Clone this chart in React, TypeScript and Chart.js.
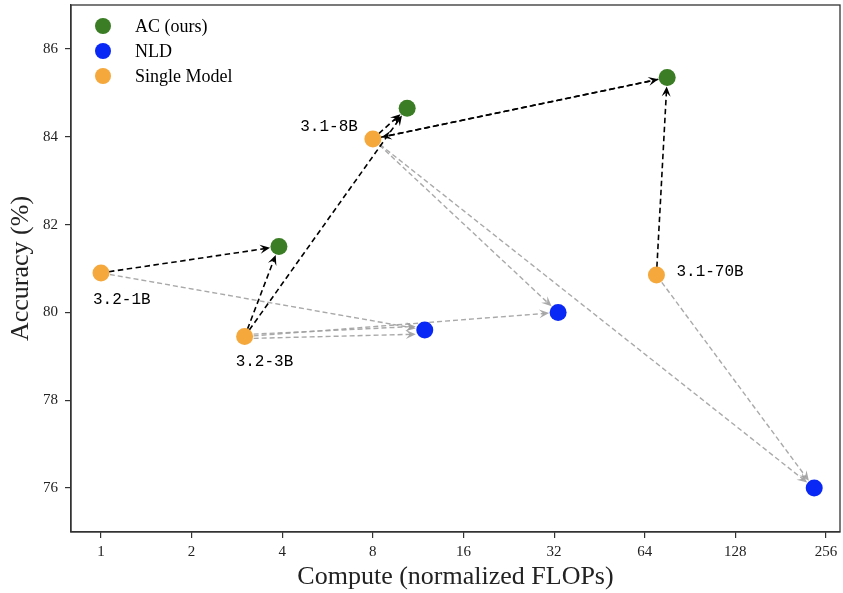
import React, { useEffect, useRef } from "react";
import { Chart, registerables } from "chart.js";

Chart.register(...registerables);

// ---------- data ----------
const modelLabels = ["3.2-1B", "3.2-3B", "3.1-8B", "3.1-70B"];
const singleCompute = [1, 3, 8, 70];
const singleAcc = [80.9, 79.45, 83.95, 80.85];
const acCompute = [3.9, 10.4, 76];
const acAcc = [81.5, 84.65, 85.35];
const nldCompute = [11.9, 33, 234];
const nldAcc = [79.6, 80.0, 76.0];
const xTicks = [1, 2, 4, 8, 16, 32, 64, 128, 256];
const yTicks = [76, 78, 80, 82, 84, 86];
const seriesNames = ["AC (ours)", "NLD", "Single Model"];
// arrows: [single model index, target index]
const acArrows = [[0, 0], [1, 0], [1, 1], [2, 1], [2, 2], [3, 2]];
const acBackArrows = [[2, 2]]; // AC point -> single model (double head)
const nldArrows = [[0, 0], [1, 0], [1, 0], [1, 1], [2, 1], [2, 2], [3, 2]];

// ---------- styles ----------
const COLORS = { ac: "#3a7d24", nld: "#0a28f5", single: "#f5a83c" };
const labelOffsets = [
  { dx: -8, dy: 27, align: "left" },
  { dx: -9, dy: 25, align: "left" },
  { dx: -15, dy: -12, align: "right" },
  { dx: 20, dy: -3, align: "left" },
];
const nldDupOffset = [0, -2, 2, 0, 0, 0, 0];
const SERIF = "'Liberation Serif', 'DejaVu Serif', serif";
const MONO = "'Liberation Mono', 'DejaVu Sans Mono', monospace";

function drawArrow(ctx, x0, y0, x1, y1, color, dash, width, shrinkA, shrinkB) {
  const dx = x1 - x0, dy = y1 - y0;
  const len = Math.hypot(dx, dy);
  const ux = dx / len, uy = dy / len;
  const sx = x0 + ux * shrinkA, sy = y0 + uy * shrinkA;
  const ex = x1 - ux * shrinkB, ey = y1 - uy * shrinkB;
  const L = 10, W = 4.5;
  ctx.save();
  ctx.strokeStyle = color;
  ctx.fillStyle = color;
  ctx.lineWidth = width;
  ctx.setLineDash(dash);
  ctx.beginPath();
  ctx.moveTo(sx, sy);
  ctx.lineTo(ex - ux * L * 0.5, ey - uy * L * 0.5);
  ctx.stroke();
  ctx.setLineDash([]);
  const nx = -uy, ny = ux;
  ctx.beginPath();
  ctx.moveTo(ex, ey);
  ctx.lineTo(ex - ux * L + nx * W, ey - uy * L + ny * W);
  ctx.lineTo(ex - ux * L * 0.6, ey - uy * L * 0.6);
  ctx.lineTo(ex - ux * L - nx * W, ey - uy * L - ny * W);
  ctx.closePath();
  ctx.fill();
  ctx.restore();
}

const arrowsPlugin = {
  id: "arrows",
  beforeDatasetsDraw(chart) {
    const ctx = chart.ctx;
    const xs = chart.scales.x, ys = chart.scales.y;
    const px = (v) => xs.getPixelForValue(v);
    const py = (v) => ys.getPixelForValue(v);
    const gray = "rgba(160,160,160,0.9)";
    nldArrows.forEach(([s, t], i) => {
      const o = nldDupOffset[i];
      drawArrow(ctx, px(singleCompute[s]), py(singleAcc[s]) + o, px(nldCompute[t]), py(nldAcc[t]) + o * 2,
        gray, [5, 3], 1.4, 9, 9);
    });
    acArrows.forEach(([s, t]) => {
      drawArrow(ctx, px(singleCompute[s]), py(singleAcc[s]), px(acCompute[t]), py(acAcc[t]),
        "#000", [5.5, 3.5], 1.6, 8, 9);
    });
    acBackArrows.forEach(([s, t]) => {
      drawArrow(ctx, px(acCompute[t]), py(acAcc[t]), px(singleCompute[s]), py(singleAcc[s]),
        "#000", [5.5, 3.5], 1.6, 9, 9);
    });
  },
  afterDatasetsDraw(chart) {
    const ctx = chart.ctx;
    const xs = chart.scales.x, ys = chart.scales.y;
    ctx.save();
    ctx.fillStyle = "#000";
    ctx.font = `16px ${MONO}`;
    ctx.textBaseline = "middle";
    modelLabels.forEach((lab, i) => {
      const o = labelOffsets[i];
      ctx.textAlign = o.align;
      ctx.fillText(lab, xs.getPixelForValue(singleCompute[i]) + o.dx, ys.getPixelForValue(singleAcc[i]) + o.dy);
    });
    // frame
    const a = chart.chartArea;
    ctx.strokeStyle = "#333";
    ctx.lineWidth = 1.3;
    ctx.strokeRect(a.left, a.top, a.right - a.left, a.bottom - a.top);
    // legend
    const cols = [COLORS.ac, COLORS.nld, COLORS.single];
    ctx.font = `18px ${SERIF}`;
    ctx.textAlign = "left";
    seriesNames.forEach((name, i) => {
      const cy = a.top + 21 + i * 25;
      ctx.beginPath();
      ctx.fillStyle = cols[i];
      ctx.arc(a.left + 32, cy, 8, 0, Math.PI * 2);
      ctx.fill();
      ctx.fillStyle = "#000";
      ctx.fillText(name, a.left + 64, cy + 1);
    });
    ctx.restore();
  },
};

export default function App() {
  const ref = useRef(null);
  useEffect(() => {
    const mk = (xsArr, ysArr) => xsArr.map((x, i) => ({ x, y: ysArr[i] }));
    const chart = new Chart(ref.current, {
      type: "scatter",
      data: {
        datasets: [
          { label: seriesNames[0], data: mk(acCompute, acAcc), backgroundColor: COLORS.ac, pointRadius: 8.5, borderWidth: 0 },
          { label: seriesNames[1], data: mk(nldCompute, nldAcc), backgroundColor: COLORS.nld, pointRadius: 8.5, borderWidth: 0 },
          { label: seriesNames[2], data: mk(singleCompute, singleAcc), backgroundColor: COLORS.single, pointRadius: 8.5, borderWidth: 0 },
        ],
      },
      options: {
        responsive: false,
        animation: false,
        devicePixelRatio: 1,
        layout: { autoPadding: false, padding: { top: 5, right: 3, left: 0, bottom: 0 } },
        plugins: { legend: { display: false }, tooltip: { enabled: false } },
        scales: {
          x: {
            type: "logarithmic",
            min: 0.795,
            max: 285,
            afterBuildTicks: (s) => { s.ticks = xTicks.map((v) => ({ value: v })); },
            afterFit: (s) => { s.height = 61; s.paddingLeft = 0; s.paddingRight = 0; },
            ticks: { callback: (v) => String(v), autoSkip: false, maxRotation: 0, color: "#222", font: { family: SERIF, size: 15 }, padding: 5 },
            grid: { display: true, drawOnChartArea: false, drawTicks: true, tickLength: 6, color: "#333", lineWidth: 1.2 },
            border: { display: true, color: "#333", width: 1.3 },
            title: { display: true, text: "Compute (normalized FLOPs)", color: "#222", font: { family: SERIF, size: 26 }, padding: { top: 0, bottom: 0 } },
          },
          y: {
            type: "linear",
            min: 75,
            max: 87,
            afterBuildTicks: (s) => { s.ticks = yTicks.map((v) => ({ value: v })); },
            afterFit: (s) => { s.width = 71; s.paddingTop = 0; s.paddingBottom = 0; },
            ticks: { callback: (v) => String(v), color: "#222", font: { family: SERIF, size: 15 }, padding: 7 },
            grid: { display: true, drawOnChartArea: false, drawTicks: true, tickLength: 6, color: "#333", lineWidth: 1.2 },
            border: { display: true, color: "#333", width: 1.3 },
            title: { display: true, text: "Accuracy (%)", color: "#222", font: { family: SERIF, size: 26 }, padding: { top: 6, bottom: 0 } },
          },
        },
      },
      plugins: [arrowsPlugin],
    });
    return () => chart.destroy();
  }, []);
  return (
    <div style={{ position: "absolute", left: 0, top: 0, width: 843, height: 593, background: "#fff" }}>
      <canvas ref={ref} width={843} height={593} />
    </div>
  );
}
